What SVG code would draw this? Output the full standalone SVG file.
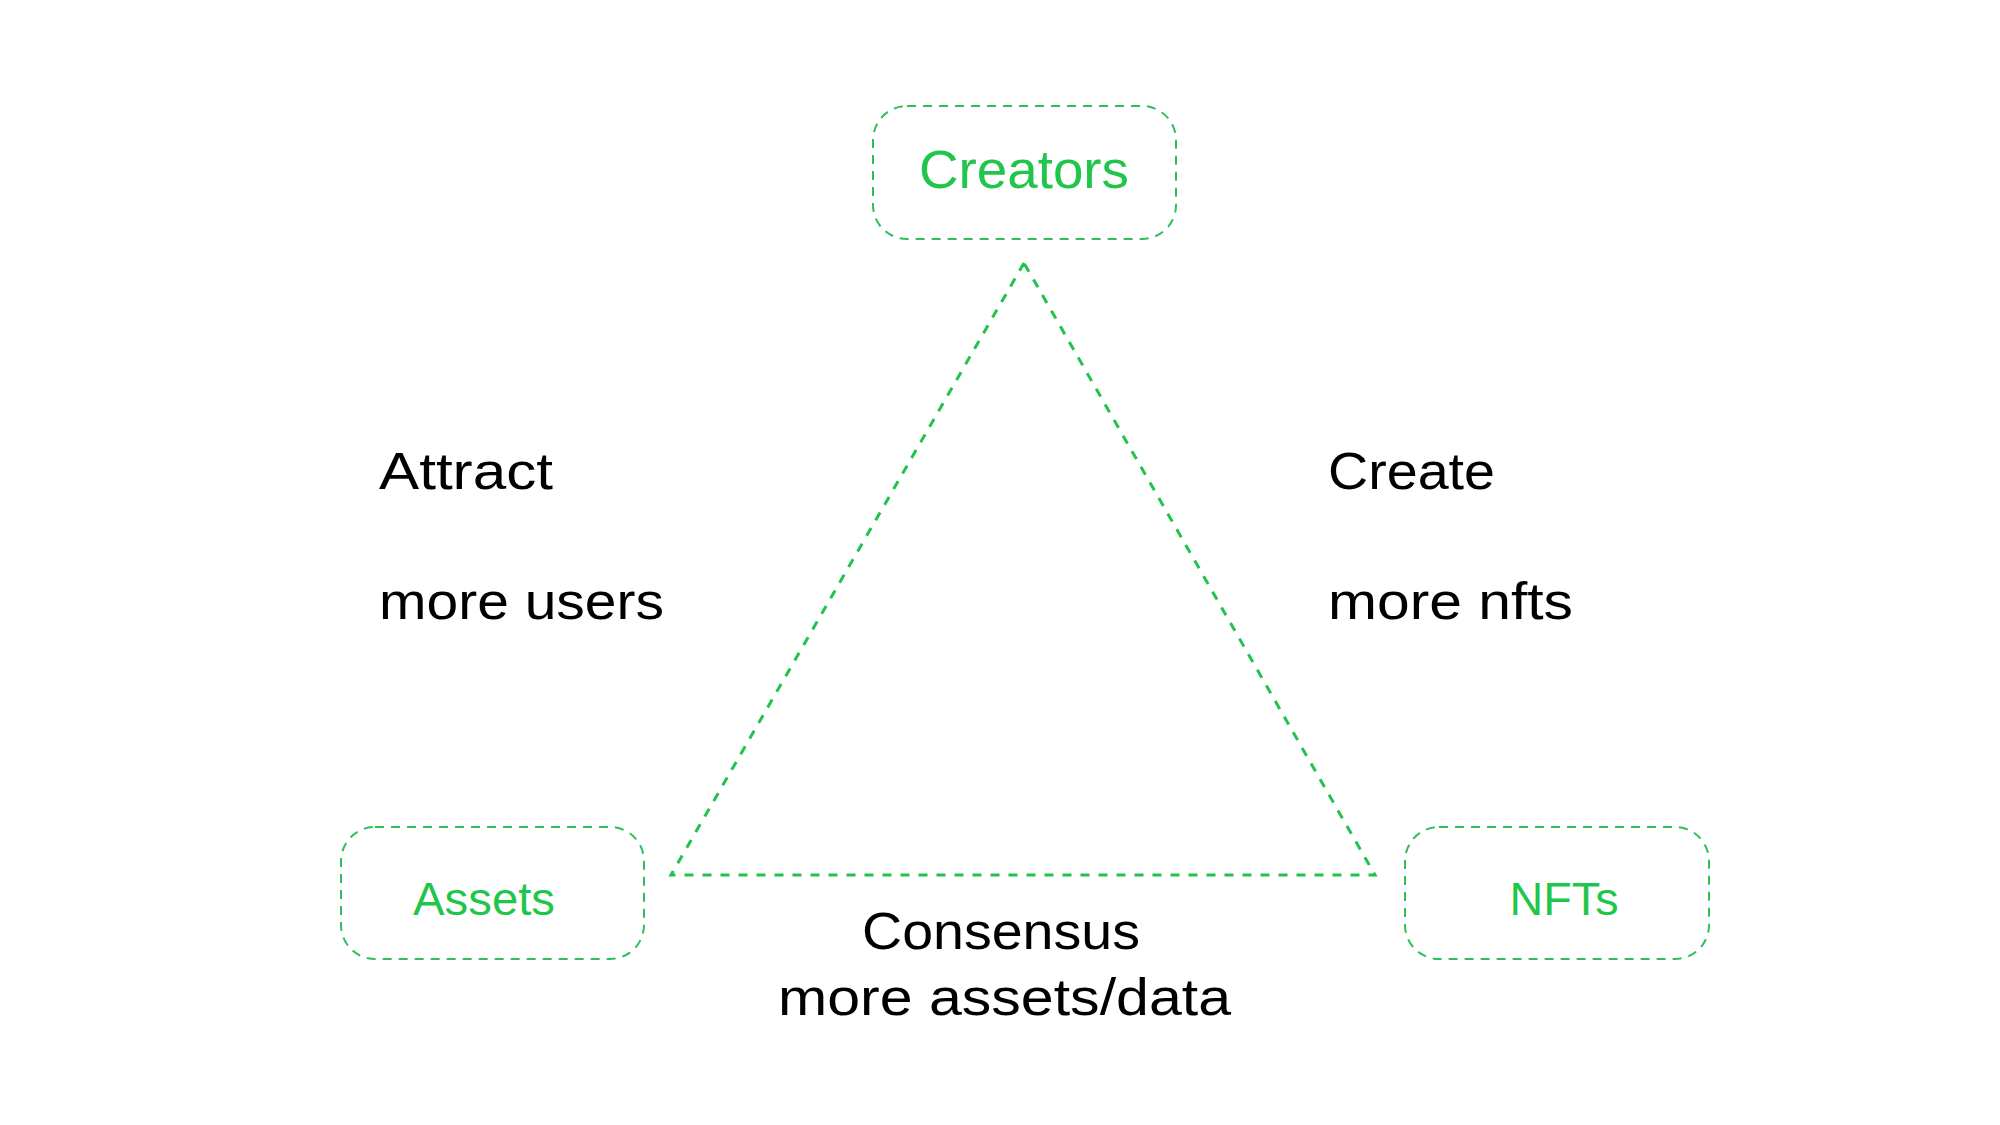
<svg xmlns="http://www.w3.org/2000/svg" width="2000" height="1125" viewBox="0 0 2000 1125">
<style>
.box{fill:none;stroke:#2cbf5a;stroke-width:2;stroke-dasharray:9 7}
.lbl{fill:#1fc64b;font-family:"Liberation Sans",Arial,sans-serif;text-anchor:middle}
.txt{fill:#000;font-family:"Liberation Sans",Arial,sans-serif;font-size:52px}
.edge{fill:none;stroke:#22c24f;stroke-width:3;stroke-dasharray:9 9}
</style>
<rect width="2000" height="1125" fill="#fff"/>
<g id="connectors">
<path class="edge" d="M1024 263 L671 875 L1375 875 Z"/>
</g>
<g id="creators">
<rect class="box" x="873" y="106" width="303" height="133" rx="34"/>
<text class="lbl" x="1024" y="188" font-size="53" textLength="210" lengthAdjust="spacingAndGlyphs">Creators</text>
</g>
<g id="assets">
<rect class="box" x="341" y="827" width="303" height="132" rx="34"/>
<text class="lbl" x="484" y="915" font-size="46" textLength="142" lengthAdjust="spacingAndGlyphs">Assets</text>
</g>
<g id="nfts">
<rect class="box" x="1405" y="827" width="304" height="132" rx="34"/>
<text class="lbl" x="1564" y="915" font-size="46" textLength="109" lengthAdjust="spacingAndGlyphs">NFTs</text>
</g>
<g id="labels">
<text class="txt" x="379" y="489" textLength="174" lengthAdjust="spacingAndGlyphs">Attract</text>
<text class="txt" x="379" y="619" textLength="285" lengthAdjust="spacingAndGlyphs">more users</text>
<text class="txt" x="1328" y="489" textLength="167" lengthAdjust="spacingAndGlyphs">Create</text>
<text class="txt" x="1328" y="619" textLength="245" lengthAdjust="spacingAndGlyphs">more nfts</text>
<text class="txt" x="862" y="949" textLength="278" lengthAdjust="spacingAndGlyphs">Consensus</text>
<text class="txt" x="778" y="1015" textLength="453" lengthAdjust="spacingAndGlyphs">more assets/data</text>
</g>
</svg>
